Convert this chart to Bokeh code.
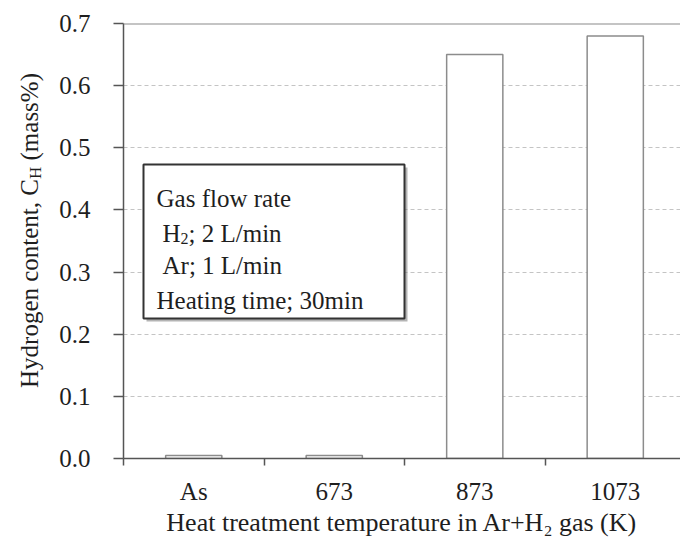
import math
from bokeh.plotting import figure
from bokeh.layouts import row
from bokeh.models import Range1d, FixedTicker, NumeralTickFormatter, Label, BoxAnnotation, Span
from bokeh.embed import file_html
from bokeh.resources import INLINE

# ---------------- data ----------------
categories = ["As", "673", "873", "1073"]
hydrogen = [0.005, 0.005, 0.65, 0.68]
y_ticks = [0.0, 0.1, 0.2, 0.3, 0.4, 0.5, 0.6, 0.7]
x_title = "Heat treatment temperature in Ar+H\u2082 gas (K)"
y_title = ["Hydrogen content, C", "H", "(mass%)"]
note_title = "Gas flow rate"
note_h2 = ["H", "2", "; 2 L/min"]
note_ar = "Ar; 1 L/min"
note_time = "Heating time; 30min"

# ---------------- layout ----------------
W, H = 680, 544
YW = 45            # width of the strip holding the y title
FL, FT, FB, FR = 123, 23, 458, 680   # frame edges in page pixels
CAT_PX = 140.5
x_end = (FR - FL) / CAT_PX
y_end = y_ticks[-1]
YPX = (FB - FT) / y_end
FONT = "Liberation Serif"
TXT = "#1e1e1e"


def dx(px):
    return (px - FL) / CAT_PX


def dy(py):
    return (FB - py) / YPX


TWID = {" ": 250, "(": 333, ")": 333, "%": 833, ",": 250, ";": 278, "/": 278, "+": 564,
        ".": 250, "A": 722, "C": 667, "G": 722, "H": 722, "K": 722, "L": 611,
        "a": 444, "c": 444, "d": 500, "e": 444, "f": 333, "g": 500, "i": 278, "l": 278,
        "m": 778, "n": 500, "o": 500, "p": 500, "r": 333, "s": 389, "t": 278, "u": 500,
        "w": 722, "y": 500}


def tw(s, size):
    return sum(TWID.get(c, 500) for c in s) / 1000.0 * size


def text_label(fig, x, y, text, size, angle=0.0):
    fig.add_layout(Label(x=x, y=y, text=text, text_font=FONT,
                         text_font_size=f"{size}px", text_color=TXT,
                         text_baseline="alphabetic", text_align="left", angle=angle))


# ---------------- main plot ----------------
p = figure(width=W - YW, height=H, x_range=Range1d(0, x_end), y_range=Range1d(0, y_end),
           output_backend="svg", toolbar_location=None,
           min_border_left=FL - YW, min_border_right=0, min_border_top=FT,
           min_border_bottom=H - FB)
p.title.visible = False
p.outline_line_color = None
p.background_fill_color = "white"
p.border_fill_color = "white"

p.xgrid.visible = False
p.ygrid.ticker = FixedTicker(ticks=y_ticks[1:-1])
p.ygrid.grid_line_color = "#c4c4c4"
p.ygrid.grid_line_dash = "4 3"
p.ygrid.grid_line_width = 1

centers = [i + 0.5 for i in range(len(categories))]
p.vbar(x=centers, top=hydrogen, bottom=0, width=0.4,
       fill_color="white", line_color="#8c8c8c", line_width=1.5)

xa = p.xaxis[0]
xa.ticker = FixedTicker(ticks=centers, minor_ticks=list(range(len(categories) + 1)))
xa.major_label_overrides = {c: lab for c, lab in zip(centers, categories)}
xa.major_tick_out = 0
xa.major_tick_in = 0
xa.major_tick_line_color = None
xa.minor_tick_out = 7
xa.minor_tick_in = 0
xa.minor_tick_line_color = "#555555"
xa.minor_tick_line_width = 1.5
xa.axis_line_color = "#555555"
xa.axis_line_width = 1.5
xa.major_label_text_font = FONT
xa.major_label_text_font_size = "25px"
xa.major_label_text_color = TXT
xa.major_label_standoff = 12
xa.axis_label = x_title
xa.axis_label_text_font = FONT
xa.axis_label_text_font_size = "26px"
xa.axis_label_text_font_style = "normal"
xa.axis_label_text_color = TXT
xa.axis_label_standoff = 0

ya = p.yaxis[0]
ya.ticker = FixedTicker(ticks=y_ticks)
ya.formatter = NumeralTickFormatter(format="0.0")
ya.major_tick_out = 10
ya.major_tick_in = 0
ya.major_tick_line_color = "#555555"
ya.major_tick_line_width = 1.5
ya.minor_tick_line_color = None
ya.axis_line_color = "#555555"
ya.axis_line_width = 1.5
ya.major_label_text_font = FONT
ya.major_label_text_font_size = "25px"
ya.major_label_text_color = TXT
ya.major_label_standoff = 23

p.add_layout(Span(location=y_end, dimension="width", line_color="#8a8a8a", line_width=2))

# note box with shadow
p.add_layout(BoxAnnotation(left=dx(146), right=dx(407), top=dy(167), bottom=dy(321),
                           fill_color="#777777", fill_alpha=0.55, line_color=None))
p.add_layout(BoxAnnotation(left=dx(143), right=dx(404), top=dy(164), bottom=dy(318),
                           fill_color="white", fill_alpha=1.0, line_color="#333333",
                           line_alpha=1.0, line_width=2))

NS, NSUB = 25, 16
text_label(p, dx(156), dy(198), note_title, NS)
x0 = 162
text_label(p, dx(x0), dy(233), note_h2[0], NS)
text_label(p, dx(x0 + tw(note_h2[0], NS)), dy(238), note_h2[1], NSUB)
text_label(p, dx(x0 + tw(note_h2[0], NS) + tw(note_h2[1], NSUB)), dy(233), note_h2[2], NS)
text_label(p, dx(162), dy(265), note_ar, NS)
text_label(p, dx(156), dy(300), note_time, NS)

# ---------------- y title strip ----------------
# In a row, Bokeh aligns this strip's frame with the main frame (FT..FB),
# so its y range is expressed directly in page pixels over that span.
TS, TSUB = 25, 17
yfig = figure(width=YW, height=H, x_range=Range1d(0, YW), y_range=Range1d(FB, FT),
              output_backend="svg", toolbar_location=None,
              x_axis_type=None, y_axis_type=None,
              min_border_left=0, min_border_right=0, min_border_top=FT,
              min_border_bottom=H - FB)
yfig.title.visible = False
yfig.outline_line_color = None
yfig.background_fill_color = "white"
yfig.border_fill_color = "white"

gap = tw(" ", TS)
tot = tw(y_title[0], TS) + tw(y_title[1], TSUB) + gap + tw(y_title[2], TS)
sy = 230 + tot / 2
text_label(yfig, 29, sy, y_title[0], TS, math.pi / 2)
sy -= tw(y_title[0], TS)
text_label(yfig, 35, sy, y_title[1], TSUB, math.pi / 2)
sy -= tw(y_title[1], TSUB) + gap
text_label(yfig, 29, sy, y_title[2], TS, math.pi / 2)

root = row(yfig, p)
open("out.html", "w").write(file_html(root, INLINE))
